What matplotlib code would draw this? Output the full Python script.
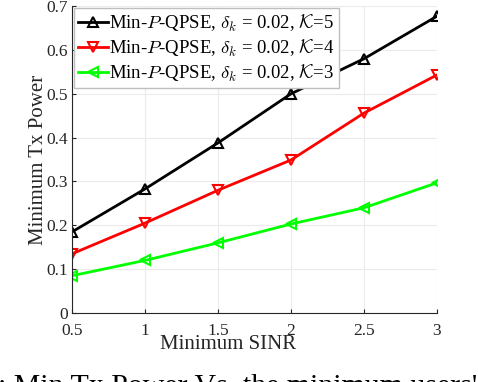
import matplotlib
matplotlib.use('Agg')
from matplotlib import pyplot as plt

sinr = [0.5, 1, 1.5, 2, 2.5, 3]
power_k5 = [0.185, 0.283, 0.388, 0.500, 0.580, 0.677]
power_k4 = [0.135, 0.205, 0.280, 0.349, 0.456, 0.543]
power_k3 = [0.085, 0.120, 0.160, 0.203, 0.240, 0.297]
labels = [r'Min-$P$-QPSE, $\delta_k$ = 0.02, $\mathcal{K}$=5',
          r'Min-$P$-QPSE, $\delta_k$ = 0.02, $\mathcal{K}$=4',
          r'Min-$P$-QPSE, $\delta_k$ = 0.02, $\mathcal{K}$=3']

plt.rcParams['font.family'] = ['Liberation Serif', 'DejaVu Serif']
plt.rcParams['mathtext.fontset'] = 'cm'

fig = plt.figure(figsize=(4.78, 3.82), dpi=100)
ax = fig.add_axes([0.1506, 0.1806, 0.7636, 0.8034])

ax.plot(sinr, power_k5, '-^', color='black', lw=2, ms=7, mfc='none', mew=1.5, label=labels[0])
ax.plot(sinr, power_k4, '-v', color='#ff0000', lw=2, ms=7, mfc='none', mew=1.5, label=labels[1])
ax.plot(sinr, power_k3, '-<', color='#00ff00', lw=2, ms=7, mfc='none', mew=1.5, label=labels[2])

ax.set_xlim(0.5, 3)
ax.set_ylim(0, 0.7)
ax.set_xticks(sinr)
ax.set_xticklabels(['0.5', '1', '1.5', '2', '2.5', '3'])
ax.set_yticks([0, 0.1, 0.2, 0.3, 0.4, 0.5, 0.6, 0.7])
ax.set_yticklabels(['0', '0.1', '0.2', '0.3', '0.4', '0.5', '0.6', '0.7'])
ax.grid(True, color='#ebebeb', lw=0.8)
ax.set_axisbelow(True)
for s in ['top', 'right']:
    ax.spines[s].set_visible(False)
for s in ['left', 'bottom']:
    ax.spines[s].set_color('#262626')
ax.tick_params(direction='in', length=3, colors='#262626', labelsize=12.5, pad=3)
ax.tick_params(axis='x', pad=7)
ax.set_xlabel('Minimum SINR', fontsize=15, color='#262626')
ax.xaxis.set_label_coords(0.428, -0.072)
ax.set_ylabel('Minimum Tx Power', fontsize=15, color='#262626')
ax.yaxis.set_label_coords(-0.066, 0.5)

leg = ax.legend(loc='upper left', fontsize=13.5, handlelength=1.6, handletextpad=0.1,
                borderpad=0.2, labelspacing=0.15, borderaxespad=0.1, fancybox=False,
                framealpha=1, edgecolor='#bfbfbf')

fig.text(-0.035, -0.048, "n: Min Tx Power Vs. the minimum users' SINR", fontsize=21.5, ha='left', va='bottom')

fig.savefig('out.png', dpi=100)
